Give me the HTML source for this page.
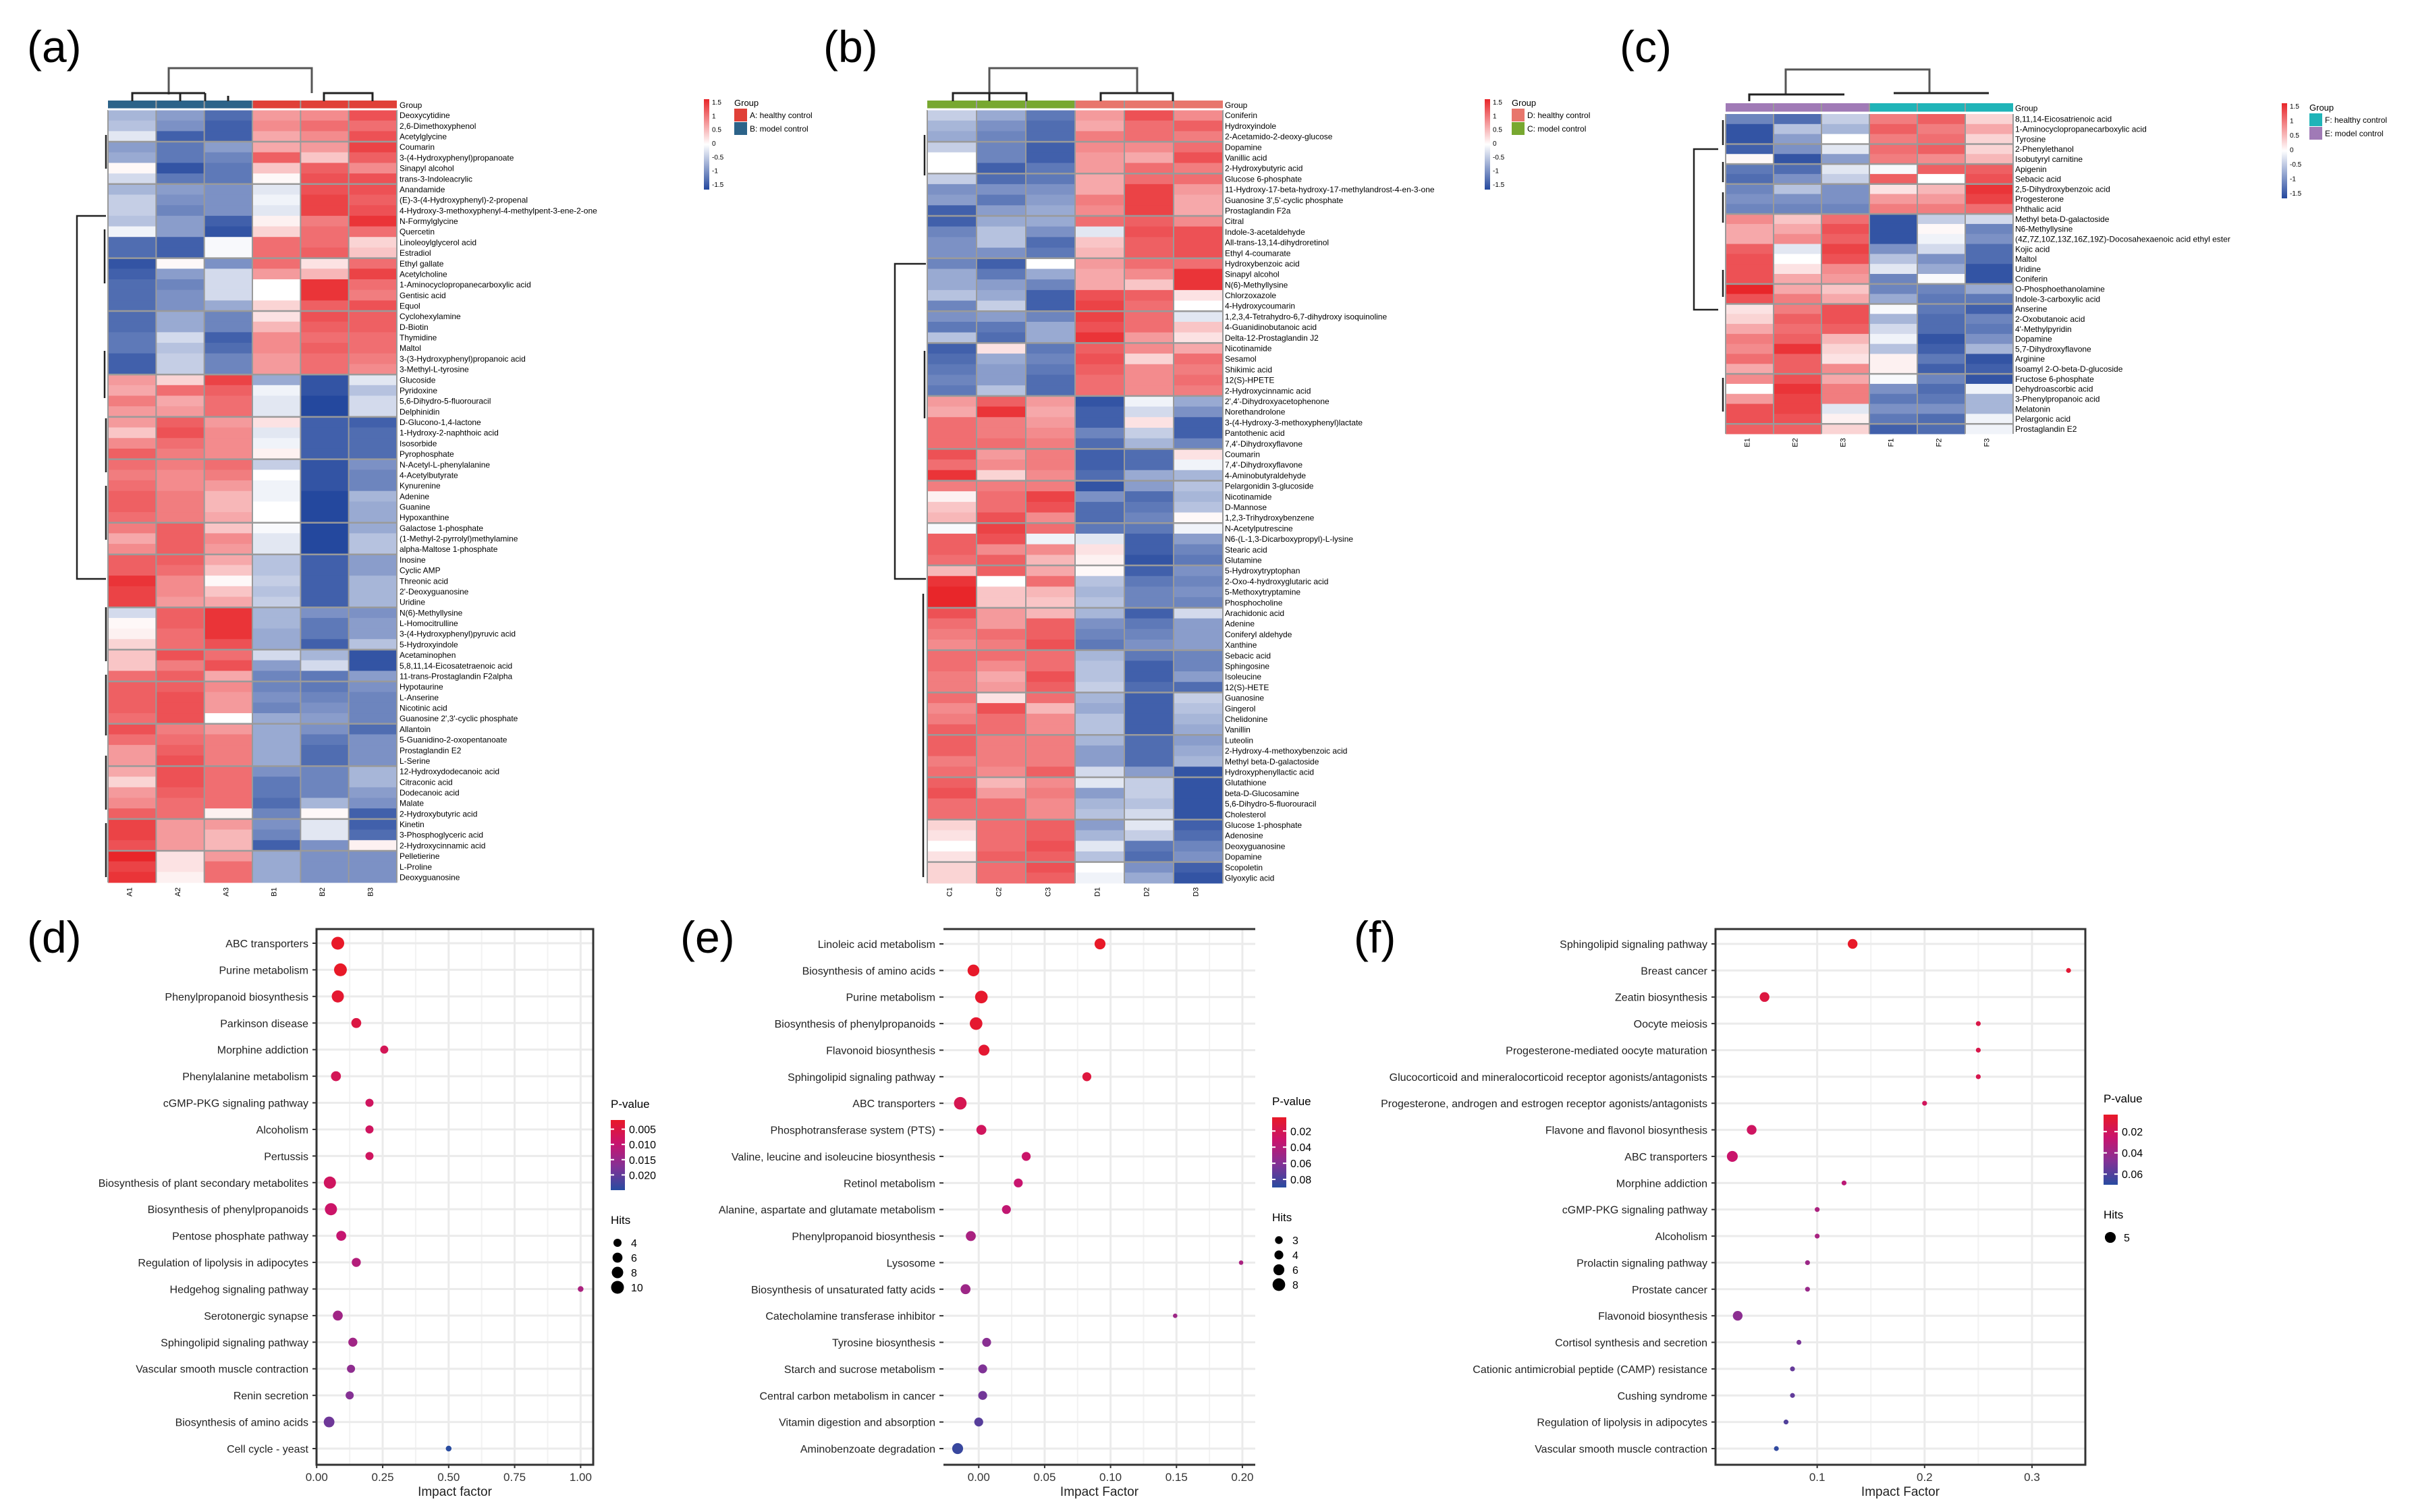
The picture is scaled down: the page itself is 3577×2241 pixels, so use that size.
<!DOCTYPE html>
<html><head><meta charset="utf-8">
<style>
html,body{margin:0;padding:0;background:#fff;}
svg{display:block;font-family:"Liberation Sans",Arial,sans-serif;}
</style></head>
<body>
<svg id="fig" xmlns="http://www.w3.org/2000/svg" width="3577" height="2241" viewBox="0 0 3577 2241">
<rect x="0" y="0" width="3577" height="2241" fill="#fff"/>
<text x="40" y="92" font-size="66">(a)</text>
<text x="1220" y="92" font-size="66">(b)</text>
<text x="2400" y="92" font-size="66">(c)</text>
<text x="40" y="1412" font-size="66">(d)</text>
<text x="1008" y="1412" font-size="66">(e)</text>
<text x="2006" y="1412" font-size="66">(f)</text>
<g id="root"></g>
</svg>
<script>
// ---------- Heatmap data ----------
const heatSamplesA=["A1","A2","A3","B1","B2","B3"];
const heatSamplesB=["C1","C2","C3","D1","D2","D3"];
const heatSamplesC=["E1","E2","E3","F1","F2","F3"];
const heatNamesA=["Deoxycytidine","2,6-Dimethoxyphenol","Acetylglycine","Coumarin","3-(4-Hydroxyphenyl)propanoate","Sinapyl alcohol","trans-3-Indoleacrylic","Anandamide","(E)-3-(4-Hydroxyphenyl)-2-propenal","4-Hydroxy-3-methoxyphenyl-4-methylpent-3-ene-2-one","N-Formylglycine","Quercetin","Linoleoylglycerol acid","Estradiol","Ethyl gallate","Acetylcholine","1-Aminocyclopropanecarboxylic acid","Gentisic acid","Equol","Cyclohexylamine","D-Biotin","Thymidine","Maltol","3-(3-Hydroxyphenyl)propanoic acid","3-Methyl-L-tyrosine","Glucoside","Pyridoxine","5,6-Dihydro-5-fluorouracil","Delphinidin","D-Glucono-1,4-lactone","1-Hydroxy-2-naphthoic acid","Isosorbide","Pyrophosphate","N-Acetyl-L-phenylalanine","4-Acetylbutyrate","Kynurenine","Adenine","Guanine","Hypoxanthine","Galactose 1-phosphate","(1-Methyl-2-pyrrolyl)methylamine","alpha-Maltose 1-phosphate","Inosine","Cyclic AMP","Threonic acid","2'-Deoxyguanosine","Uridine","N(6)-Methyllysine","L-Homocitrulline","3-(4-Hydroxyphenyl)pyruvic acid","5-Hydroxyindole","Acetaminophen","5,8,11,14-Eicosatetraenoic acid","11-trans-Prostaglandin F2alpha","Hypotaurine","L-Anserine","Nicotinic acid","Guanosine 2',3'-cyclic phosphate","Allantoin","5-Guanidino-2-oxopentanoate","Prostaglandin E2","L-Serine","12-Hydroxydodecanoic acid","Citraconic acid","Dodecanoic acid","Malate","2-Hydroxybutyric acid","Kinetin","3-Phosphoglyceric acid","2-Hydroxycinnamic acid","Pelletierine","L-Proline","Deoxyguanosine"];
const heatValsA=[
[-0.6,-0.8,-1.2,0.7,0.8,1.2],[-0.5,-0.9,-1.3,0.8,1.0,1.0],[-0.2,-1.3,-1.3,0.6,0.8,1.2],[-0.8,-1.1,-0.8,0.6,0.7,1.3],[-0.7,-1.1,-1.0,1.1,0.4,1.1],
[0.05,-1.4,-1.1,0.4,1.1,0.8],[-0.3,-1.1,-1.1,0.05,1.2,1.2],[-0.6,-0.8,-0.9,-0.2,1.2,1.2],[-0.4,-0.9,-0.9,-0.1,1.3,1.1],[-0.4,-1.0,-0.9,-0.2,1.3,1.2],
[-0.5,-0.8,-1.3,0.1,0.9,1.4],[-0.1,-0.8,-1.4,0.3,1.0,1.0],[-1.2,-1.3,-0.05,1.0,1.0,0.3],[-1.2,-1.3,-0.05,1.0,1.1,0.4],[-1.4,0.05,-0.9,1.0,0.2,1.0],
[-1.3,-0.8,-0.3,0.7,0.5,1.3],[-1.2,-1.0,-0.3,0.0,1.4,1.0],[-1.2,-0.9,-0.3,0.0,1.4,0.9],[-1.2,-0.9,-0.7,0.3,1.1,1.2],[-1.2,-0.7,-1.0,0.2,1.2,1.1],
[-1.2,-0.7,-1.0,0.5,1.1,1.1],[-1.1,-0.3,-1.3,0.8,1.0,1.0],[-1.1,-0.5,-1.2,0.8,1.1,1.0],[-1.3,-0.4,-1.0,0.7,1.0,0.9],[-1.3,-0.4,-1.0,0.7,1.0,0.8],
[0.7,0.3,1.3,-0.7,-1.4,-0.2],[0.6,1.0,1.1,-0.1,-1.4,-0.5],[0.9,0.6,1.0,-0.2,-1.5,-0.3],[0.7,0.7,1.0,-0.2,-1.5,-0.3],[0.7,1.1,0.7,0.2,-1.3,-1.3],
[0.4,1.2,0.8,-0.2,-1.3,-1.2],[0.8,1.0,0.8,-0.1,-1.3,-1.2],[1.1,0.9,0.8,0.1,-1.3,-1.2],[1.0,0.9,1.0,-0.4,-1.4,-0.9],[0.9,0.8,0.9,0.0,-1.4,-1.0],
[1.0,0.8,0.7,-0.1,-1.4,-1.0],[1.1,0.9,0.5,-0.1,-1.5,-0.6],[1.1,0.9,0.5,0.0,-1.5,-0.7],[1.0,0.9,0.6,0.0,-1.5,-0.7],[0.9,1.1,0.4,-0.05,-1.5,-0.7],
[0.6,1.1,0.8,-0.2,-1.5,-0.5],[0.8,1.1,0.7,-0.2,-1.5,-0.5],[1.1,1.1,0.6,-0.5,-1.3,-0.8],[1.1,1.0,0.4,-0.5,-1.3,-0.8],[1.4,0.8,0.05,-0.4,-1.3,-0.6],
[1.3,0.8,0.4,-0.5,-1.3,-0.6],[1.3,0.7,0.6,-0.4,-1.3,-0.6],[-0.3,1.1,1.4,-0.6,-0.9,-0.9],[0.05,1.1,1.4,-0.6,-1.1,-0.8],[0.1,1.0,1.4,-0.7,-1.1,-0.8],
[0.3,1.0,1.2,-0.7,-1.3,-0.5],[0.4,1.2,1.0,-0.3,-0.6,-1.4],[0.4,0.9,1.2,-0.8,-0.3,-1.4],[1.0,1.1,0.6,-1.0,-1.1,-0.8],[1.1,1.1,0.8,-1.0,-1.1,-0.9],
[1.1,1.2,0.7,-0.9,-1.0,-1.0],[1.1,1.2,0.7,-1.0,-0.9,-1.0],[1.0,1.2,0.0,-0.7,-0.8,-1.0],[1.2,0.9,0.7,-0.7,-0.9,-1.2],[1.0,1.0,0.9,-0.7,-1.1,-0.9],
[0.7,1.1,0.9,-0.7,-1.2,-0.9],[0.7,1.2,0.9,-0.7,-1.2,-0.9],[0.6,1.2,1.0,-0.9,-1.0,-0.6],[0.3,1.2,1.0,-1.1,-1.0,-0.6],[0.7,1.1,1.0,-1.1,-1.0,-0.8],
[0.8,1.0,1.0,-1.2,-0.6,-0.9],[1.1,1.0,0.1,-1.0,0.05,-1.3],[1.3,0.7,0.7,-0.9,-0.2,-1.3],[1.3,0.7,0.5,-1.0,-0.2,-1.2],[1.2,0.7,0.5,-1.3,-0.9,0.1],
[1.5,0.2,0.7,-0.7,-0.9,-0.9],[1.3,0.2,1.0,-0.7,-0.9,-0.9],[1.4,0.1,1.0,-0.7,-0.9,-0.9]];
const heatSepA=[3,7,14,19,25,29,33,39,42,47,51,54,58,62,67,70];

const heatNamesB=["Coniferin","Hydroxyindole","2-Acetamido-2-deoxy-glucose","Dopamine","Vanillic acid","2-Hydroxybutyric acid","Glucose 6-phosphate","11-Hydroxy-17-beta-hydroxy-17-methylandrost-4-en-3-one","Guanosine 3',5'-cyclic phosphate","Prostaglandin F2a","Citral","Indole-3-acetaldehyde","All-trans-13,14-dihydroretinol","Ethyl 4-coumarate","Hydroxybenzoic acid","Sinapyl alcohol","N(6)-Methyllysine","Chlorzoxazole","4-Hydroxycoumarin","1,2,3,4-Tetrahydro-6,7-dihydroxy isoquinoline","4-Guanidinobutanoic acid","Delta-12-Prostaglandin J2","Nicotinamide","Sesamol","Shikimic acid","12(S)-HPETE","2-Hydroxycinnamic acid","2',4'-Dihydroxyacetophenone","Norethandrolone","3-(4-Hydroxy-3-methoxyphenyl)lactate","Pantothenic acid","7,4'-Dihydroxyflavone","Coumarin","7,4'-Dihydroxyflavone","4-Aminobutyraldehyde","Pelargonidin 3-glucoside","Nicotinamide","D-Mannose","1,2,3-Trihydroxybenzene","N-Acetylputrescine","N6-(L-1,3-Dicarboxypropyl)-L-lysine","Stearic acid","Glutamine","5-Hydroxytryptophan","2-Oxo-4-hydroxyglutaric acid","5-Methoxytryptamine","Phosphocholine","Arachidonic acid","Adenine","Coniferyl aldehyde","Xanthine","Sebacic acid","Sphingosine","Isoleucine","12(S)-HETE","Guanosine","Gingerol","Chelidonine","Vanillin","Luteolin","2-Hydroxy-4-methoxybenzoic acid","Methyl beta-D-galactoside","Hydroxyphenyllactic acid","Glutathione","beta-D-Glucosamine","5,6-Dihydro-5-fluorouracil","Cholesterol","Glucose 1-phosphate","Adenosine","Deoxyguanosine","Dopamine","Scopoletin","Glyoxylic acid"];
const heatValsB=[
[-0.4,-0.7,-1.1,0.7,1.2,0.8],[-0.6,-0.9,-1.2,0.6,1.0,1.1],[-0.7,-1.0,-1.2,0.9,1.0,0.9],[-0.4,-1.0,-1.3,0.8,0.8,1.0],[0.0,-1.0,-1.3,0.7,0.6,1.2],
[0.0,-1.3,-1.1,0.7,1.0,0.9],[-0.4,-1.2,-1.1,0.6,1.0,1.0],[-0.9,-0.9,-0.9,0.6,1.3,0.7],[-0.8,-1.1,-0.8,0.9,1.3,0.6],[-1.3,-0.8,-0.7,0.8,1.3,0.6],
[-1.3,-0.7,-0.7,1.0,1.1,0.8],[-1.0,-0.5,-0.9,-0.2,1.2,1.2],[-0.9,-0.5,-1.2,0.4,1.1,1.2],[-0.9,-0.9,-1.1,0.5,1.1,1.2],[-1.0,-1.3,0.0,0.7,1.0,1.0],
[-0.7,-1.1,-0.7,0.6,0.8,1.4],[-0.7,-0.8,-1.0,0.6,0.4,1.4],[-0.5,-0.7,-1.3,1.2,1.1,0.2],[-1.0,-0.4,-1.3,1.3,1.0,0.0],[-0.9,-0.8,-1.0,1.3,1.0,-0.2],
[-1.1,-1.1,-0.7,1.2,1.0,0.4],[-0.5,-1.2,-0.7,1.4,0.7,0.2],[-1.3,0.2,-1.1,1.1,0.8,0.6],[-1.2,-0.7,-1.0,1.2,0.3,1.0],[-1.1,-0.8,-1.1,1.1,0.8,0.9],
[-1.0,-0.8,-1.2,1.0,0.8,1.0],[-1.1,-0.5,-1.2,1.0,0.8,0.9],[0.7,1.1,0.7,-1.4,-0.1,-0.7],[0.6,1.4,0.6,-1.3,-0.3,-0.9],[1.0,0.9,0.7,-1.3,0.2,-1.3],
[1.0,0.9,0.8,-1.0,-0.4,-1.3],[1.0,1.0,0.9,-1.2,-0.6,-1.0],[1.2,0.7,0.9,-1.3,-1.2,0.2],[1.0,0.8,0.9,-1.3,-1.2,-0.1],[1.4,0.3,0.8,-1.2,-0.7,-0.6],
[0.9,0.9,0.9,-1.4,-0.8,-0.5],[0.1,1.0,1.3,-0.9,-1.2,-0.6],[0.4,1.0,1.2,-1.2,-1.1,-0.5],[0.5,1.2,0.8,-1.2,-1.0,0.05],[-0.05,1.3,1.0,-1.1,-1.1,-0.1],
[1.1,1.2,-0.1,-0.2,-1.3,-0.8],[1.1,0.8,0.8,0.2,-1.3,-1.0],[1.0,1.1,0.5,0.1,-1.4,-1.1],[0.5,1.1,0.6,0.05,-1.3,-0.9],[1.4,0.0,1.0,-0.5,-1.1,-1.0],
[1.5,0.4,0.5,-0.6,-1.0,-0.9],[1.5,0.4,0.4,-0.5,-1.0,-1.0],[1.2,0.7,0.5,-0.6,-1.3,-0.3],[1.0,0.7,1.1,-0.9,-1.1,-0.8],[0.9,1.0,1.1,-1.0,-1.0,-0.8],
[0.8,0.9,1.2,-1.1,-0.9,-0.8],[1.0,1.0,1.0,-0.6,-1.1,-1.0],[1.0,0.8,1.0,-0.5,-1.3,-1.0],[0.9,0.6,1.2,-0.5,-1.3,-0.8],[0.9,0.7,1.1,-0.4,-1.2,-1.2],
[1.0,0.2,1.0,-0.6,-1.3,-0.4],[0.8,1.2,0.5,-0.7,-1.3,-0.5],[0.9,1.0,0.8,-0.5,-1.3,-0.6],[1.1,1.0,0.8,-0.5,-1.3,-0.7],[1.1,0.9,0.9,-0.6,-1.2,-0.8],
[1.1,0.9,0.9,-0.8,-1.2,-0.7],[0.9,0.9,0.9,-0.8,-1.2,-0.6],[1.0,0.8,1.1,-0.3,-0.8,-1.4],[1.1,0.5,0.8,-0.2,-0.4,-1.4],[1.2,0.7,0.9,-0.8,-0.4,-1.4],
[1.0,1.0,0.8,-0.6,-0.5,-1.4],[1.0,1.0,0.8,-0.5,-0.3,-1.4],[0.3,1.0,1.1,-0.8,-0.2,-1.3],[0.2,1.0,1.1,-0.6,-0.4,-1.2],[0.0,1.0,1.2,-0.2,-1.1,-1.0],
[0.2,1.1,1.1,-0.5,-1.2,-0.9],[0.3,1.0,1.2,0.0,-0.9,-1.3],[0.3,1.0,1.1,-0.1,-0.7,-1.4]];
const heatSepB=[3,6,10,14,19,22,27,32,35,39,43,47,51,55,59,63,67,71];

const heatNamesC=["8,11,14-Eicosatrienoic acid","1-Aminocyclopropanecarboxylic acid","Tyrosine","2-Phenylethanol","Isobutyryl carnitine","Apigenin","Sebacic acid","2,5-Dihydroxybenzoic acid","Progesterone","Phthalic acid","Methyl beta-D-galactoside","N6-Methyllysine","(4Z,7Z,10Z,13Z,16Z,19Z)-Docosahexaenoic acid ethyl ester","Kojic acid","Maltol","Uridine","Coniferin","O-Phosphoethanolamine","Indole-3-carboxylic acid","Anserine","2-Oxobutanoic acid","4'-Methylpyridin","Dopamine","5,7-Dihydroxyflavone","Arginine","Isoamyl 2-O-beta-D-glucoside","Fructose 6-phosphate","Dehydroascorbic acid","3-Phenylpropanoic acid","Melatonin","Pelargonic acid","Prostaglandin E2"];
const heatValsC=[
[-1.0,-1.2,-0.4,0.9,1.1,0.3],[-1.4,-0.5,-0.6,1.1,0.9,0.6],[-1.4,-0.8,0.0,0.9,1.0,0.3],[-1.3,-0.9,-0.2,1.0,1.1,0.3],[0.05,-1.4,-0.8,0.9,0.8,0.5],
[-1.1,-1.2,-0.2,-0.05,1.1,1.1],[-1.2,-0.9,-0.4,1.1,0.0,1.2],[-1.0,-0.5,-0.9,0.2,0.5,1.4],[-0.9,-0.9,-0.9,0.7,0.7,1.3],[-1.0,-1.0,-1.0,0.9,0.9,1.0],
[0.8,0.4,1.0,-1.4,-0.4,-0.3],[0.6,0.6,1.2,-1.4,0.05,-1.0],[0.6,0.8,1.1,-1.4,-0.1,-0.9],[1.1,-0.2,1.3,-0.9,-0.3,-1.2],[1.2,0.0,1.2,-0.5,-0.9,-1.2],
[1.2,0.2,0.8,-0.2,-0.7,-1.4],[1.2,0.6,0.7,-1.0,-0.05,-1.4],[1.5,0.6,0.4,-1.0,-1.0,-0.7],[1.2,0.9,0.6,-0.7,-1.1,-1.1],[0.2,0.9,1.2,-0.05,-1.1,-1.3],
[0.3,1.1,1.2,-0.6,-1.2,-1.0],[0.6,1.0,1.1,-0.3,-1.2,-1.1],[0.9,1.1,0.5,-0.1,-1.4,-0.9],[0.8,1.4,0.3,-0.5,-1.3,-0.6],[1.0,1.1,0.2,0.1,-1.1,-1.4],
[0.6,1.1,0.8,0.1,-1.3,-1.3],[0.8,1.2,0.6,-0.05,-1.0,-1.4],[0.0,1.4,0.9,-0.9,-1.2,-0.1],[0.7,1.3,0.9,-1.1,-1.1,-0.6],[1.2,1.3,-0.2,-0.9,-0.9,-0.6],
[1.2,1.2,0.1,-1.1,-1.2,-0.1],[1.1,1.1,0.3,-1.3,-1.2,-0.1]];
const heatSepC=[3,5,7,10,17,19,26,31];
const heatLegendTicks=["1.5","1","0.5","0","-0.5","-1","-1.5"];

// ---------- Bubble data ----------
const pathD=["ABC transporters","Purine metabolism","Phenylpropanoid biosynthesis","Parkinson disease","Morphine addiction","Phenylalanine metabolism","cGMP-PKG signaling pathway","Alcoholism","Pertussis","Biosynthesis of plant secondary metabolites","Biosynthesis of phenylpropanoids","Pentose phosphate pathway","Regulation of lipolysis in adipocytes","Hedgehog signaling pathway","Serotonergic synapse","Sphingolipid signaling pathway","Vascular smooth muscle contraction","Renin secretion","Biosynthesis of amino acids","Cell cycle - yeast"];
const impactD=[0.08,0.09,0.08,0.15,0.256,0.073,0.20,0.20,0.20,0.05,0.054,0.093,0.15,1.0,0.08,0.137,0.13,0.125,0.047,0.50];
const pvalD=[0.002,0.002,0.003,0.005,0.007,0.007,0.008,0.008,0.008,0.008,0.009,0.010,0.012,0.013,0.014,0.014,0.016,0.017,0.019,0.025];
const hitsD=[10,10,9,6,4,6,4,4,4,9,9,6,5,2,6,5,4,4,7,2];
const ticksD=[0,0.25,0.5,0.75,1.0];
const tickLabD=["0.00","0.25","0.50","0.75","1.00"];
const pLegD=["0.005","0.010","0.015","0.020"];
const pLegValD=[0.005,0.010,0.015,0.020];
const hitLegD=[4,6,8,10];

const pathE=["Linoleic acid metabolism","Biosynthesis of amino acids","Purine metabolism","Biosynthesis of phenylpropanoids","Flavonoid biosynthesis","Sphingolipid signaling pathway","ABC transporters","Phosphotransferase system (PTS)","Valine, leucine and isoleucine biosynthesis","Retinol metabolism","Alanine, aspartate and glutamate metabolism","Phenylpropanoid biosynthesis","Lysosome","Biosynthesis of unsaturated fatty acids","Catecholamine transferase inhibitor","Tyrosine biosynthesis","Starch and sucrose metabolism","Central carbon metabolism in cancer","Vitamin digestion and absorption","Aminobenzoate degradation"];
const impactE=[0.092,-0.004,0.002,-0.002,0.004,0.082,-0.014,0.002,0.036,0.030,0.021,-0.006,0.199,-0.010,0.149,0.006,0.003,0.003,0.000,-0.016];
const pvalE=[0.003,0.004,0.005,0.006,0.007,0.012,0.02,0.025,0.03,0.032,0.035,0.045,0.045,0.05,0.05,0.058,0.062,0.066,0.075,0.085];
const hitsE=[6,7,8,8,6,4,8,5,4,4,4,5,1,5,1,4,4,4,4,6];
const ticksE=[0,0.05,0.10,0.15,0.20];
const tickLabE=["0.00","0.05","0.10","0.15","0.20"];
const pLegE=["0.02","0.04","0.06","0.08"];
const pLegValE=[0.02,0.04,0.06,0.08];
const hitLegE=[3,4,6,8];

const pathF=["Sphingolipid signaling pathway","Breast cancer","Zeatin biosynthesis","Oocyte meiosis","Progesterone-mediated oocyte maturation","Glucocorticoid and mineralocorticoid receptor agonists/antagonists","Progesterone, androgen and estrogen receptor agonists/antagonists","Flavone and flavonol biosynthesis","ABC transporters","Morphine addiction","cGMP-PKG signaling pathway","Alcoholism","Prolactin signaling pathway","Prostate cancer","Flavonoid biosynthesis","Cortisol synthesis and secretion","Cationic antimicrobial peptide (CAMP) resistance","Cushing syndrome","Regulation of lipolysis in adipocytes","Vascular smooth muscle contraction"];
const impactF=[0.133,0.334,0.051,0.25,0.25,0.25,0.20,0.039,0.021,0.125,0.10,0.10,0.091,0.091,0.026,0.083,0.077,0.077,0.071,0.062];
const pvalF=[0.004,0.008,0.012,0.014,0.015,0.016,0.02,0.022,0.025,0.03,0.035,0.036,0.04,0.041,0.045,0.05,0.055,0.056,0.06,0.068];
const hitsF=[4,1,4,1,1,1,1,4,5,1,1,1,1,1,4,1,1,1,1,1];
const ticksF=[0.1,0.2,0.3];
const tickLabF=["0.1","0.2","0.3"];
const pLegF=["0.02","0.04","0.06"];
const pLegValF=[0.02,0.04,0.06];
const hitLegF=[5];

// ---------- helpers ----------
const NS="http://www.w3.org/2000/svg";
const root=document.getElementById('root');
function mk(tag,attrs,parent,text){const e=document.createElementNS(NS,tag);for(const k in attrs)e.setAttribute(k,attrs[k]);if(text!==undefined)e.textContent=text;(parent||root).appendChild(e);return e;}
function lerp(a,b,t){return a+(b-a)*t;}
function mix(c1,c2,t){return 'rgb('+[0,1,2].map(i=>Math.round(lerp(c1[i],c2[i],t))).join(',')+')';}
const HRED=[232,38,42],HWHITE=[255,255,255],HBLUE=[36,72,158];
function heatColor(v){const t=Math.max(-1.5,Math.min(1.5,v))/1.5;return t>=0?mix(HWHITE,HRED,t):mix(HWHITE,HBLUE,-t);}
const PSTOPS=[[232,25,40],[200,20,110],[130,50,150],[40,75,160]];
function pColor(p,lo,hi){let t=(p-lo)/(hi-lo);t=Math.max(0,Math.min(1,t));const s=t*3;const i=Math.min(2,Math.floor(s));return mix(PSTOPS[i],PSTOPS[i+1],s-i);}

// ---------- heatmap ----------
function heatmap(cfg){
  const g=mk('g',{});
  
  
  const n=cfg.vals.length, cw=(cfg.x1-cfg.x0)/6, rh=(cfg.y1-cfg.y0)/n;
  // group bar
  for(let j=0;j<6;j++){
    const r=mk('rect',{x:cfg.x0+j*cw,y:cfg.gy0,width:cw,height:cfg.gy1-cfg.gy0,fill:j<3?cfg.g1:cfg.g2},g);
    
    
  }
  mk('text',{x:cfg.lx,y:(cfg.gy0+cfg.gy1)/2+5,'font-size':cfg.fs},g,'Group');
  for(let i=0;i<n;i++){
    for(let j=0;j<6;j++){
      const c=mk('rect',{x:cfg.x0+j*cw,y:cfg.y0+i*rh,width:cw+0.5,height:rh+0.5,fill:heatColor(cfg.vals[i][j])},g);
      
      
    }
    const t=mk('text',{x:cfg.lx,y:cfg.y0+(i+0.5)*rh+cfg.fs*0.36,'font-size':cfg.fs},g,cfg.names[i]);
    
    
  }
  for(let j=0;j<=6;j++)mk('line',{x1:cfg.x0+j*cw,x2:cfg.x0+j*cw,y1:cfg.y0,y2:cfg.y1,stroke:'#9a9a9a','stroke-width':2},g);
  for(let j=1;j<6;j++)mk('line',{x1:cfg.x0+j*cw,x2:cfg.x0+j*cw,y1:cfg.gy0,y2:cfg.gy1,stroke:'#9a9a9a','stroke-width':2},g);
  cfg.sep.forEach(s=>mk('line',{x1:cfg.x0,x2:cfg.x1,y1:cfg.y0+s*rh,y2:cfg.y0+s*rh,stroke:'#9a9a9a','stroke-width':2.5},g));
  mk('line',{x1:cfg.x0,x2:cfg.x1,y1:cfg.gy1+1,y2:cfg.gy1+1,stroke:'#fff','stroke-width':3},g);
  // column labels
  for(let j=0;j<6;j++){
    const cx=cfg.x0+(j+0.5)*cw;
    const t=mk('text',{x:cx,y:cfg.cly,'font-size':11,'text-anchor':'middle',transform:'rotate(-90 '+cx+' '+cfg.cly+')'},g,cfg.samples[j]);
    
    
  }
  // column dendrogram
  const d=cfg.dend;
  mk('path',{d:d.top,stroke:'#555',fill:'none','stroke-width':3},g);
  mk('path',{d:d.sub,stroke:'#222',fill:'none','stroke-width':3},g);
  mk('path',{d:d.row,stroke:'#222',fill:'none','stroke-width':2.5},g);
  // legend colorbar
  const lg=mk('g',{},g);
  
  
  const gid='hg'+cfg.id;
  const defs=mk('defs',{},lg);
  const gr=mk('linearGradient',{id:gid,x1:0,y1:0,x2:0,y2:1},defs);
  mk('stop',{offset:'0%','stop-color':'rgb(232,38,42)'},gr);
  mk('stop',{offset:'50%','stop-color':'#fff'},gr);
  mk('stop',{offset:'100%','stop-color':'rgb(36,72,158)'},gr);
  mk('rect',{x:cfg.cbx,y:cfg.cby0,width:8,height:cfg.cby1-cfg.cby0,fill:'url(#'+gid+')'},lg);
  heatLegendTicks.forEach((s,k)=>{mk('text',{x:cfg.cbx+12,y:cfg.cby0+8+k*(cfg.cby1-cfg.cby0-12)/6,'font-size':10},lg,s);});
  mk('text',{x:cfg.gbx,y:cfg.gby-4,'font-size':13},lg,'Group');
  const bh=19;
  mk('rect',{x:cfg.gbx,y:cfg.gby,width:19,height:bh,fill:cfg.leg1c},lg);
  mk('rect',{x:cfg.gbx,y:cfg.gby+bh+1,width:19,height:bh,fill:cfg.leg2c},lg);
  mk('text',{x:cfg.gbx+23,y:cfg.gby+14,'font-size':12},lg,cfg.leg1);
  mk('text',{x:cfg.gbx+23,y:cfg.gby+bh+15,'font-size':12},lg,cfg.leg2);
}

heatmap({id:'heatmap-a',x0:160,x1:588,y0:163,y1:1308,gy0:149,gy1:161,g1:'#2c6389',g2:'#e04038',vals:heatValsA,names:heatNamesA,samples:heatSamplesA,sep:heatSepA,lx:592,fs:12,cly:1322,
  dend:{top:'M250 140 V101 H462 V138',sub:'M196 150 V138 H304 M250 138 V138 M304 138 V150 M267 150 V138 M338 150 V142 M480 150 V138 H552 V150',row:'M157 320 H114 V858 H157 M157 200 V250 M155 340 V420 M155 520 V590 M157 620 V700 M157 720 V800 M157 900 V980 M157 1000 V1090 M157 1120 V1200 M157 1220 V1300'},
  cbx:1043,cby0:147,cby1:281,gbx:1088,gby:161,leg1c:'#e04038',leg2c:'#2c6389',leg1:'A: healthy control',leg2:'B: model control'});
heatmap({id:'heatmap-b',x0:1374,x1:1812,y0:163,y1:1309,gy0:149,gy1:161,g1:'#78a830',g2:'#e8766c',vals:heatValsB,names:heatNamesB,samples:heatSamplesB,sep:heatSepB,lx:1815,fs:12,cly:1322,
  dend:{top:'M1466 138 V101 H1685 V138',sub:'M1412 150 V138 H1521 V150 M1466 138 V150 M1631 150 V138 H1738 V150',row:'M1372 391 H1326 V858 H1372 M1370 200 V260 M1368 880 V1300 M1370 520 V620'},
  cbx:2200,cby0:147,cby1:281,gbx:2240,gby:161,leg1c:'#e8766c',leg2c:'#78a830',leg1:'D: healthy control',leg2:'C: model control'});
heatmap({id:'heatmap-c',x0:2557,x1:2983,y0:169,y1:643,gy0:153,gy1:166,g1:'#a07ab6',g2:'#1fb4b8',vals:heatValsC,names:heatNamesC,samples:heatSamplesC,sep:heatSepC,lx:2986,fs:12,cly:656,
  dend:{top:'M2646 140 V103 H2859 V138',sub:'M2592 150 V140 H2733 M2646 140 V140 M2806 138 H2947 M2859 138 V138',row:'M2546 221 H2510 V459 H2546 M2553 178 V215 M2553 240 V270 M2553 285 V330 M2553 400 V440 M2553 560 V610'},
  cbx:3381,cby0:153,cby1:294,gbx:3422,gby:168,leg1c:'#1fb4b8',leg2c:'#a07ab6',leg1:'F: healthy control',leg2:'E: model control'});

// ---------- bubble charts ----------
function bubble(cfg){
  const g=mk('g',{});
  
  
  const n=cfg.names.length;
  let lo=Math.min(...cfg.impact),hi=Math.max(...cfg.impact);const pad=(hi-lo)*0.05;lo-=pad;hi+=pad;
  const xs=v=>cfg.left+(v-lo)/(hi-lo)*(cfg.right-cfg.left);
  const rowH=(cfg.rowLast-cfg.rowFirst)/(n-1);
  const ys=i=>cfg.rowFirst+i*rowH;
  const rs=h=>Math.sqrt(h)*cfg.rk;
  // grid
  for(let k=0;k<cfg.ticks.length;k++){
    const x=xs(cfg.ticks[k]);
    mk('line',{x1:x,x2:x,y1:cfg.top,y2:cfg.bottom,stroke:'#ebebeb','stroke-width':3},g);
    if(k<cfg.ticks.length-1){const xm=xs((cfg.ticks[k]+cfg.ticks[k+1])/2);mk('line',{x1:xm,x2:xm,y1:cfg.top,y2:cfg.bottom,stroke:'#f2f2f2','stroke-width':2},g);}
    const gl=mk('text',{x:x,y:cfg.bottom+24,'font-size':17,'text-anchor':'middle',fill:'#333'},g,cfg.tickLab[k]);
    
    
    mk('line',{x1:x,x2:x,y1:cfg.bottom,y2:cfg.bottom+5,stroke:'#333','stroke-width':2},g);
  }
  for(let i=0;i<n;i++){
    const y=ys(i);
    mk('line',{x1:cfg.left,x2:cfg.right,y1:y,y2:y,stroke:'#ebebeb','stroke-width':3},g);
    const t=mk('text',{x:cfg.left-12,y:y+6,'font-size':16,'text-anchor':'end',fill:'#222'},g,cfg.names[i]);
    
    
    mk('line',{x1:cfg.left-6,x2:cfg.left,y1:y,y2:y,stroke:'#333','stroke-width':2},g);
  }
  if(cfg.fullBox){mk('rect',{x:cfg.left,y:cfg.top,width:cfg.right-cfg.left,height:cfg.bottom-cfg.top,fill:'none',stroke:'#333','stroke-width':3},g);}
  else{mk('line',{x1:cfg.left,x2:cfg.right,y1:cfg.top,y2:cfg.top,stroke:'#333','stroke-width':3},g);mk('line',{x1:cfg.left,x2:cfg.right,y1:cfg.bottom,y2:cfg.bottom,stroke:'#333','stroke-width':3},g);}
  for(let i=0;i<n;i++){
    const c=mk('circle',{cx:xs(cfg.impact[i]),cy:ys(i),r:rs(cfg.hits[i]),fill:pColor(cfg.pval[i],cfg.plo,cfg.phi)},g);
    
    
  }
  const at=mk('text',{x:(cfg.left+cfg.right)/2,y:cfg.bottom+46,'font-size':19,'text-anchor':'middle',fill:'#222'},g,cfg.xTitle);
  
  
  // legend
  const lg=mk('g',{},g);
  
  
  mk('text',{x:cfg.lgx,y:cfg.lgy,'font-size':17},lg,'P-value');
  const gid='pg'+cfg.id;
  const defs=mk('defs',{},lg);
  const gr=mk('linearGradient',{id:gid,x1:0,y1:0,x2:0,y2:1},defs);
  PSTOPS.forEach((s,k)=>mk('stop',{offset:(k/3*100)+'%','stop-color':'rgb('+s.join(',')+')'},gr));
  const cb0=cfg.lgy+18,cb1=cb0+104;
  mk('rect',{x:cfg.lgx,y:cb0,width:21,height:cb1-cb0,fill:'url(#'+gid+')'},lg);
  cfg.pLegVal.forEach((p,k)=>{const y=cb0+(p-cfg.plo)/(cfg.phi-cfg.plo)*(cb1-cb0);
    mk('line',{x1:cfg.lgx,x2:cfg.lgx+5,y1:y,y2:y,stroke:'#fff','stroke-width':2},lg);
    mk('line',{x1:cfg.lgx+16,x2:cfg.lgx+21,y1:y,y2:y,stroke:'#fff','stroke-width':2},lg);
    mk('text',{x:cfg.lgx+27,y:y+6,'font-size':16},lg,cfg.pLeg[k]);});
  const hg=mk('g',{},g);
  
  
  mk('text',{x:cfg.lgx,y:cb1+50,'font-size':17},hg,'Hits');
  cfg.hitLeg.forEach((h,k)=>{const y=cb1+78+k*22;
    mk('circle',{cx:cfg.lgx+10,cy:y,r:rs(h),fill:'#000'},hg);
    mk('text',{x:cfg.lgx+30,y:y+6,'font-size':16},hg,String(h));});
}
bubble({id:'bubble-d',names:pathD,impact:impactD,pval:pvalD,hits:hitsD,ticks:ticksD,tickLab:tickLabD,pLeg:pLegD,pLegVal:pLegValD,hitLeg:hitLegD,
  left:469,right:879,top:1377,bottom:2171,rowFirst:1398,rowLast:2147,rk:3.0,plo:0.002,phi:0.025,fullBox:true,xTitle:'Impact factor',lgx:905,lgy:1642});
bubble({id:'bubble-e',names:pathE,impact:impactE,pval:pvalE,hits:hitsE,ticks:ticksE,tickLab:tickLabE,pLeg:pLegE,pLegVal:pLegValE,hitLeg:hitLegE,
  left:1398,right:1860,top:1377,bottom:2171,rowFirst:1399,rowLast:2147,rk:3.3,plo:0.003,phi:0.09,fullBox:false,xTitle:'Impact Factor',lgx:1885,lgy:1638});
bubble({id:'bubble-f',names:pathF,impact:impactF,pval:pvalF,hits:hitsF,ticks:ticksF,tickLab:tickLabF,pLeg:pLegF,pLegVal:pLegValF,hitLeg:hitLegF,
  left:2542,right:3090,top:1377,bottom:2171,rowFirst:1399,rowLast:2147,rk:3.6,plo:0.004,phi:0.07,fullBox:true,xTitle:'Impact Factor',lgx:3117,lgy:1634});
</script>
</body></html>
